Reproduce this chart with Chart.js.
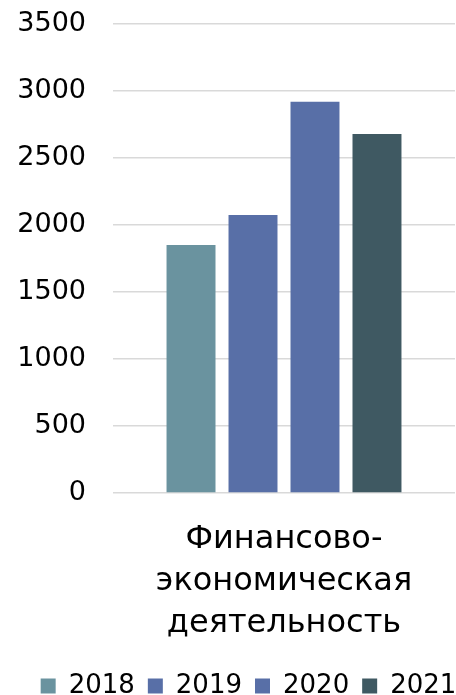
<!DOCTYPE html>
<html>
<head>
<meta charset="utf-8">
<script src="https://cdn.jsdelivr.net/npm/chart.js@4.4.1/dist/chart.umd.min.js"></script>
<style>
  html, body { margin: 0; padding: 0; background: #fff; }
  #wrap { width: 456px; height: 695px; }
</style>
</head>
<body>
<div id="wrap"><canvas id="chart"></canvas></div>
<script>
const categories = [["Финансово-", "экономическая", "деятельность"]];
const years = ["2018", "2019", "2020", "2021"];
const values2018 = [1850];
const values2019 = [2075];
const values2020 = [2920];
const values2021 = [2680];
const yTicks = [0, 500, 1000, 1500, 2000, 2500, 3000, 3500];

const colors = ["#6a939f", "#586fa7", "#586fa7", "#3f5962"];
const series = [values2018, values2019, values2020, values2021];
const font = "'DejaVu Sans', sans-serif";

// the legend row sits a bit right of centre in the original
const legendShift = {
  id: "legendShift",
  afterLayout(chart) {
    if (!chart.legend) return;
    chart.legend.left += 21;
    chart.legend.right += 21;
  },
};

new Chart(document.getElementById("chart"), {
  type: "bar",
  data: {
    labels: categories,
    datasets: series.map((vals, i) => ({
      label: years[i],
      data: vals,
      backgroundColor: colors[i],
      borderWidth: 0,
      categoryPercentage: 0.725,
      barPercentage: 0.79,
    })),
  },
  options: {
    responsive: true,
    maintainAspectRatio: false,
    animation: false,
    layout: { padding: { top: 24, right: 1, bottom: -14, left: 0 } },
    plugins: {
      tooltip: { enabled: false },
      legend: {
        position: "bottom",
        labels: {
          color: "#000",
          boxWidth: 15,
          boxHeight: 15,
          padding: 13,
          font: { family: font, size: 26 },
        },
      },
    },
    scales: {
      x: {
        grid: { display: false },
        border: { display: false },
        afterFit: (scale) => { scale.height = 167; },
        ticks: {
          color: "#000",
          padding: 18,
          font: { family: font, size: 32, lineHeight: 1.31 },
        },
      },
      y: {
        min: 0,
        max: 3500,
        afterBuildTicks: (scale) => { scale.ticks = yTicks.map((v) => ({ value: v })); },
        afterFit: (scale) => {
          scale.width = 113;
          scale.paddingTop = 0;
          scale.paddingBottom = 0;
        },
        grid: { color: "#d9d9d9", lineWidth: 1.5, drawTicks: false },
        border: { display: false },
        ticks: {
          color: "#000",
          padding: 27,
          callback: (v) => String(v),
          font: { family: font, size: 27 },
        },
      },
    },
  },
  plugins: [legendShift],
});
</script>
</body>
</html>
